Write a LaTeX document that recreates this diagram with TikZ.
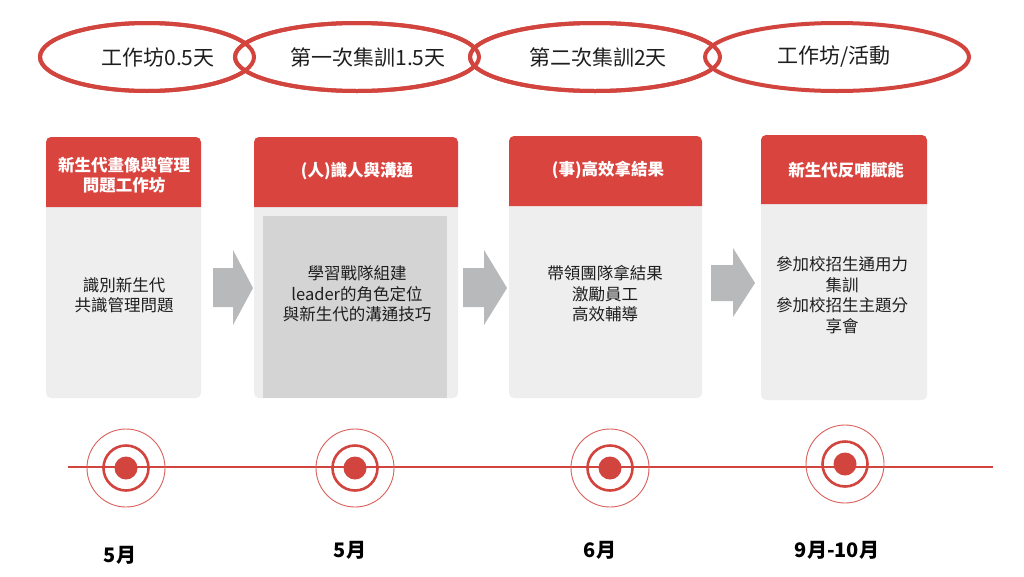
\documentclass[tikz,border=0pt]{standalone}
\usepackage{fontspec}
\setmainfont{Noto Sans CJK TC}
\usetikzlibrary{shapes.geometric}
\definecolor{ered}{HTML}{D2443E}
\definecolor{hred}{HTML}{D9443F}
\definecolor{cardgrey}{HTML}{EEEEEE}
\definecolor{innergrey}{HTML}{D4D4D4}
\definecolor{arrowgrey}{HTML}{B7B9BB}
\definecolor{txt}{HTML}{1E1E1E}
\tikzset{
  oval/.style={draw=ered, line width=4pt, ellipse, fill=white, inner sep=0pt},
  ovaltext/.style={text=txt, font=\fontsize{21}{24}\selectfont, inner sep=0pt},
  headtext/.style={text=white, font=\bfseries\fontsize{16.5}{20}\selectfont, align=center, inner sep=0pt},
  bodytext/.style={text=txt, font=\fontsize{16.5}{20.5}\selectfont, align=center, inner sep=0pt},
  datetext/.style={text=black, font=\bfseries\fontsize{20}{22}\selectfont, inner sep=0pt},
  outerring/.style={draw=ered!85, line width=0.9pt},
  innerring/.style={draw=ered, line width=2.6pt},
  dot/.style={fill=ered, draw=none},
  garrow/.style={fill=arrowgrey, draw=none},
}
\begin{document}
\begin{tikzpicture}[x=1pt,y=-1pt]
\useasboundingbox[fill=white] (0,0) rectangle (1024,576);

% ovals
\node[oval, minimum width=214, minimum height=68] (o1) at (147,57) {};
\node[oval, minimum width=244, minimum height=68] (o2) at (357,57) {};
\node[oval, minimum width=250, minimum height=68] (o3) at (595,57) {};
\node[oval, minimum width=264, minimum height=68] (o4) at (837,57) {};
\draw[draw=ered, line width=4pt] (o1.center) ellipse [x radius=107, y radius=34];
\draw[draw=ered, line width=4pt] (o2.center) ellipse [x radius=122, y radius=34];
\draw[draw=ered, line width=4pt] (o3.center) ellipse [x radius=125, y radius=34];
\node[ovaltext] (t1) at (158,57) {工作坊0.5天};
\node[ovaltext] (t2) at (368,57) {第一次集訓1.5天};
\node[ovaltext] (t3) at (598,57) {第二次集訓2天};
\node[ovaltext] (t4) at (834,57) {工作坊/活動};

% cards
\fill[cardgrey, rounded corners=5pt] (46,190) rectangle (201,398);
\fill[hred] (46,207) [rounded corners=5pt]-- (46,137) -- (201,137) [sharp corners]-- (201,207) -- cycle;
\fill[cardgrey, rounded corners=5pt] (254,190) rectangle (458,398);
\fill[innergrey] (263,216) rectangle (447,398);
\fill[hred] (254,207) [rounded corners=5pt]-- (254,137) -- (458,137) [sharp corners]-- (458,207) -- cycle;
\fill[cardgrey, rounded corners=5pt] (509,190) rectangle (702,398);
\fill[hred] (509,206) [rounded corners=5pt]-- (509,136) -- (702,136) [sharp corners]-- (702,206) -- cycle;
\fill[cardgrey, rounded corners=5pt] (761,190) rectangle (927,400);
\fill[hred] (761,204) [rounded corners=5pt]-- (761,135) -- (927,135) [sharp corners]-- (927,204) -- cycle;

\node[headtext] (h1) at (124,175) {新生代畫像與管理\\問題工作坊};
\node[headtext] (h2) at (357,171) {(人)識人與溝通};
\node[headtext] (h3) at (608,170) {(事)高效拿結果};
\node[headtext] (h4) at (846,170) {新生代反哺賦能};

\node[bodytext] (b1) at (124,295) {識別新生代\\共識管理問題};
\node[bodytext] (b2) at (357,294) {學習戰隊組建\\leader的角色定位\\與新生代的溝通技巧};
\node[bodytext] (b3) at (605,294) {帶領團隊拿結果\\激勵員工\\高效輔導};
\node[bodytext] (b4) at (842,295) {參加校招生通用力\\集訓\\參加校招生主題分\\享會};

% arrows
\fill[garrow] (213,268) -- (233,268) -- (233,250) -- (253,288) -- (233,325) -- (233,307) -- (213,307) -- cycle;
\fill[garrow] (463,268) -- (484,268) -- (484,250) -- (507,288) -- (484,325) -- (484,307) -- (463,307) -- cycle;
\fill[garrow] (711,265) -- (733,265) -- (733,248) -- (755,283) -- (733,317) -- (733,301) -- (711,301) -- cycle;

% timeline
\coordinate (ls) at (68,467);
\coordinate (le) at (993,467);
\draw[ered, line width=2pt] (ls) -- (le);
\foreach \n/\x/\y in {1/126/468, 2/355/468, 3/610/468, 4/845/464}{
  \coordinate (c\n) at (\x,\y);
  \draw[outerring] (c\n) circle (39);
  \draw[innerring] (c\n) circle (22.5);
  \fill[dot] (c\n) circle (11.5);
}

\node[datetext] (d1) at (120,555) {5月};
\node[datetext] (d2) at (350,550) {5月};
\node[datetext] (d3) at (600,550) {6月};
\node[datetext] (d4) at (837,550) {9月-10月};
\end{tikzpicture}
\end{document}
